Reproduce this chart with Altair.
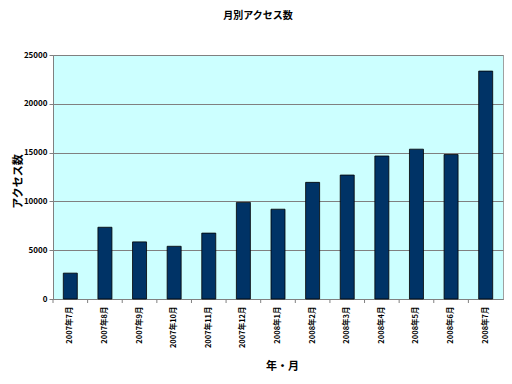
import altair as alt
import pandas as pd

months = ["2007年7月", "2007年8月", "2007年9月", "2007年10月", "2007年11月", "2007年12月",
          "2008年1月", "2008年2月", "2008年3月", "2008年4月", "2008年5月", "2008年6月", "2008年7月"]
access = [2650, 7350, 5850, 5400, 6750, 9900, 9200, 11950, 12700, 14650, 15350, 14800, 23350]
y_ticks = [0, 5000, 10000, 15000, 20000, 25000]

df = pd.DataFrame({"month": months, "access": access})
FONT = "Noto Sans CJK JP"

xscale = alt.Scale(domain=months, paddingInner=0, paddingOuter=0)
xaxis = alt.Axis(title="年・月", labelAngle=-90, labelAlign="right", labelBaseline="middle",
                 labelFont=FONT, labelFontWeight="bold", labelFontSize=7.5, labelColor="#000000",
                 labelPadding=7, ticks=False, domainColor="#808080",
                 titleFont=FONT, titleFontSize=11, titleFontWeight="bold", titleColor="#000000",
                 titleX=229, titleY=67, titleBaseline="middle", titleAlign="center")

bars = alt.Chart(df).mark_bar(size=14, color="#003366", stroke="#000000", strokeWidth=0.8).encode(
    x=alt.X("month:N", scale=xscale, sort=months, axis=xaxis),
    y=alt.Y("access:Q", scale=alt.Scale(domain=[0, 25000], nice=False),
            axis=alt.Axis(title="アクセス数", values=y_ticks, format="d", grid=True,
                          gridColor="#808080", gridWidth=1,
                          labelFont=FONT, labelFontWeight="bold", labelFontSize=8, labelColor="#000000",
                          tickSize=4, tickColor="#808080", domainColor="#808080",
                          titleFont=FONT, titleFontSize=11, titleFontWeight="bold", titleColor="#000000",
                          titleX=-35, titleY=126, titleAngle=-90, titleAlign="center", titleBaseline="middle")),
)

ticks = alt.Chart(df).mark_rule(color="#808080").encode(
    x=alt.X("month:N", scale=xscale, sort=months, bandPosition=0, axis=xaxis),
    y=alt.value(244), y2=alt.value(248),
)

chart = alt.layer(bars, ticks).properties(
    width=450, height=244,
    title=alt.TitleParams("月別アクセス数", font=FONT, fontSize=10, fontWeight="bold", color="#000000",
                          anchor="middle", offset=30, dx=-20),
    autosize=alt.AutoSizeParams(type="none"),
    padding={"left": 45, "top": 47, "right": 1, "bottom": 80},
).configure(background="#ffffff").configure_view(fill="#ccffff", stroke="#a0a0a0")

chart.save("out.html", embed_options={"renderer": "svg", "actions": False})
